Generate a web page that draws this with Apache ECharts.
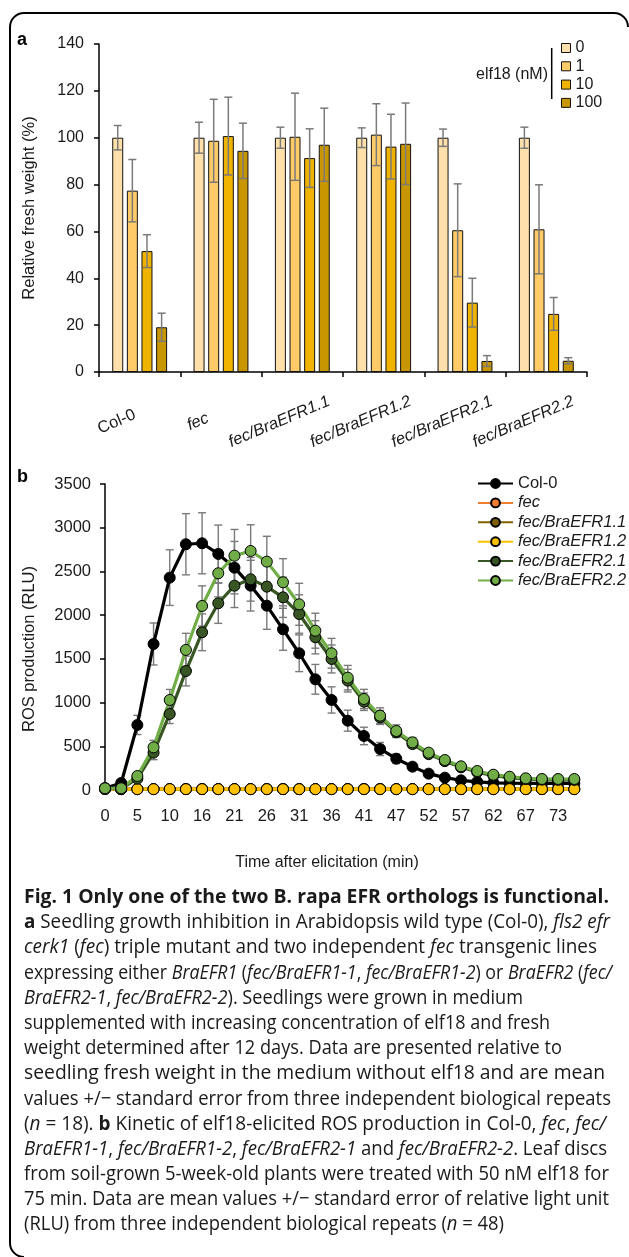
<!DOCTYPE html>
<html><head><meta charset="utf-8">
<script src="https://cdn.jsdelivr.net/npm/echarts@6/dist/echarts.min.js"></script>
<style>
html,body{margin:0;padding:0;background:#fff;width:629px;height:1257px;overflow:hidden;}
#chart{position:absolute;left:0;top:0;width:629px;height:1257px;}
#cap{position:absolute;left:24px;top:883px;font-family:'Open Sans','Noto Sans',sans-serif;font-size:20px;color:#1a1a1a;z-index:5;}
#cap .l{white-space:nowrap;height:25.2px;line-height:25.2px;transform-origin:0 50%;}
#cap .l span.w{display:inline-block;}
</style></head>
<body>
<div id="chart"></div>
<div id="cap">
<div class="l"><span class="w"><b>Fig. 1 Only one of the two B. rapa EFR orthologs is functional.</b></span></div>
<div class="l"><span class="w"><b>a</b> Seedling growth inhibition in Arabidopsis wild type (Col-0), <i>fls2 efr</i></span></div>
<div class="l"><span class="w"><i>cerk1</i> (<i>fec</i>) triple mutant and two independent <i>fec</i> transgenic lines</span></div>
<div class="l"><span class="w">expressing either <i>BraEFR1</i> (<i>fec/BraEFR1-1</i>, <i>fec/BraEFR1-2</i>) or <i>BraEFR2</i> (<i>fec/</i></span></div>
<div class="l"><span class="w"><i>BraEFR2-1</i>, <i>fec/BraEFR2-2</i>). Seedlings were grown in medium</span></div>
<div class="l"><span class="w">supplemented with increasing concentration of elf18 and fresh</span></div>
<div class="l"><span class="w">weight determined after 12 days. Data are presented relative to</span></div>
<div class="l"><span class="w">seedling fresh weight in the medium without elf18 and are mean</span></div>
<div class="l"><span class="w">values +/− standard error from three independent biological repeats</span></div>
<div class="l"><span class="w">(<i>n</i> = 18). <b>b</b> Kinetic of elf18-elicited ROS production in Col-0, <i>fec</i>, <i>fec/</i></span></div>
<div class="l"><span class="w"><i>BraEFR1-1</i>, <i>fec/BraEFR1-2</i>, <i>fec/BraEFR2-1</i> and <i>fec/BraEFR2-2</i>. Leaf discs</span></div>
<div class="l"><span class="w">from soil-grown 5-week-old plants were treated with 50 nM elf18 for</span></div>
<div class="l"><span class="w">75 min. Data are mean values +/− standard error of relative light unit</span></div>
<div class="l"><span class="w">(RLU) from three independent biological repeats (<i>n</i> = 48)</span></div>
</div>
<script>
// ---------- Panel a data ----------
const groups = ['Col-0','fec','fec/BraEFR1.1','fec/BraEFR1.2','fec/BraEFR2.1','fec/BraEFR2.2'];
const doseNames = ['0','1','10','100'];
const fw0   = [100, 100, 100, 100, 100, 100];
const fw1   = [77.4, 98.7, 100.4, 101.3, 60.5, 60.9];
const fw10  = [51.6, 100.7, 91.3, 96.2, 29.6, 24.8];
const fw100 = [19.1, 94.4, 97.0, 97.4, 4.7, 4.8];
const se0   = [5.2, 6.6, 4.5, 4.2, 3.7, 4.5];
const se1   = [13.3, 17.7, 18.6, 13.2, 19.8, 19.0];
const se10  = [7.0, 16.6, 12.5, 13.8, 10.4, 7.0];
const se100 = [6.0, 11.8, 15.6, 17.4, 2.3, 1.3];
const yTicksA = [0, 20, 40, 60, 80, 100, 120, 140];

// ---------- Panel b data ----------
const timeLabels = ['0','3','5','8','10','13','16','18','21','23','26','28','31','34','36','39','41','44','47','49','52','54','57','59','62','65','67','70','73','75'];
const lineNames = ['Col-0','fec','fec/BraEFR1.1','fec/BraEFR1.2','fec/BraEFR2.1','fec/BraEFR2.2'];
const rosCol0 = [20,80,744,1670,2429,2811,2822,2700,2543,2337,2108,1838,1564,1266,1030,793,618,469,358,267,187,141,111,92,82,78,76,75,75,75];
const rosFec  = [12,10,10,10,10,10,10,10,10,10,10,10,10,10,10,10,10,10,10,10,10,10,10,10,10,10,10,10,10,10];
const rosR11  = [12,10,10,10,10,10,10,10,10,10,10,10,10,10,10,10,10,10,10,10,10,10,10,10,10,10,10,10,10,10];
const rosR12  = [12,10,10,10,10,10,10,10,10,10,10,10,10,10,10,10,10,10,10,10,10,10,10,10,10,10,10,10,10,10];
const rosR21  = [20,15,130,427,870,1361,1804,2136,2337,2410,2326,2204,2013,1747,1499,1251,1010,830,660,525,410,330,260,205,165,142,125,118,116,115];
const rosR22  = [20,20,160,488,1030,1602,2105,2479,2680,2734,2612,2376,2124,1822,1564,1285,1041,850,675,545,427,343,271,217,175,152,134,126,126,126];
const errCol0 = [10,30,110,240,318,350,349,330,300,290,270,240,210,170,150,120,100,75,55,40,30,25,20,15,12,10,10,10,10,10];
const errR21  = [5,10,40,80,110,170,210,230,250,250,250,230,220,190,160,130,100,80,60,45,35,25,20,15,12,10,10,10,10,10];
const errR22  = [5,10,40,80,120,190,230,270,300,300,290,270,240,200,170,140,110,90,70,55,40,30,25,20,15,12,10,10,10,10];

// caption line right edges (layout)
const capRight = [609,610,597,612,523,550,562,605,611,606,607,609,609,504];

const FONT = "'Liberation Sans', Arial, sans-serif";
const TXT = '#1a1a1a';
const barColors = ['#FFE0AA','#FFCB69','#F0B400','#C89600'];
const lineColors = ['#000000','#ED7D31','#7F6000','#FFC000','#375623','#70AD47'];
const BW = 11, GAP = 0.33;

function errBarA(k, vals, errs){
  return {
    type:'custom', xAxisIndex:0, yAxisIndex:0, z:5, silent:true,
    data: vals.map((v,i)=>[i, v, errs[i]]),
    renderItem:(params, api)=>{
      const i = api.value(0), v = api.value(1), e = api.value(2);
      const c = api.coord([i, v]);
      const total = 4*BW + 3*BW*GAP;
      const x = c[0] - total/2 + BW/2 + k*BW*(1+GAP);
      const hi = api.coord([i, v+e])[1], lo = api.coord([i, Math.max(0, v-e)])[1];
      const st = {stroke:'#7a7a7a', lineWidth:1.5};
      return {type:'group', children:[
        {type:'line', shape:{x1:x,y1:hi,x2:x,y2:lo}, style:st},
        {type:'line', shape:{x1:x-4,y1:hi,x2:x+4,y2:hi}, style:st},
        {type:'line', shape:{x1:x-4,y1:lo,x2:x+4,y2:lo}, style:st}
      ]};
    }
  };
}
function errBarB(vals, errs){
  return {
    type:'custom', xAxisIndex:1, yAxisIndex:1, z:1, silent:true,
    data: vals.map((v,i)=>[i, v, errs[i]]),
    renderItem:(params, api)=>{
      const i = api.value(0), v = api.value(1), e = api.value(2);
      const x = api.coord([i, v])[0];
      const hi = api.coord([i, v+e])[1], lo = api.coord([i, Math.max(0, v-e)])[1];
      const st = {stroke:'#7a7a7a', lineWidth:1.4};
      return {type:'group', children:[
        {type:'line', shape:{x1:x,y1:hi,x2:x,y2:lo}, style:st},
        {type:'line', shape:{x1:x-4,y1:hi,x2:x+4,y2:hi}, style:st},
        {type:'line', shape:{x1:x-4,y1:lo,x2:x+4,y2:lo}, style:st}
      ]};
    }
  };
}

const barVals = [fw0, fw1, fw10, fw100];
const barErrs = [se0, se1, se10, se100];
const rosVals = [rosCol0, rosFec, rosR11, rosR12, rosR21, rosR22];

const series = [];
barVals.forEach((vals, k)=>{
  series.push({
    name: doseNames[k], type:'bar', xAxisIndex:0, yAxisIndex:0,
    barWidth: BW, barGap: (GAP*100)+'%', data: vals,
    itemStyle:{color: barColors[k], borderColor:'#111', borderWidth:1}
  });
});
barVals.forEach((vals,k)=> series.push(errBarA(k, vals, barErrs[k])));
series.push(errBarB(rosCol0, errCol0));
series.push(errBarB(rosR21, errR21));
series.push(errBarB(rosR22, errR22));
rosVals.forEach((vals, k)=>{
  series.push({
    name: lineNames[k], type:'line', xAxisIndex:1, yAxisIndex:1, z:2,
    data: vals, symbol:'circle', symbolSize:11, showSymbol:true, showAllSymbol:true, smooth:false,
    lineStyle:{color: lineColors[k], width:3.2},
    itemStyle:{color: lineColors[k], borderColor:'#000', borderWidth:1}
  });
});

const frameStyle = {fill:'none', stroke:'#000', lineWidth:2};
const option = {
  animation:false,
  backgroundColor:'#fff',
  textStyle:{fontFamily: FONT, color: TXT},
  grid:[
    {left:99, top:44, width:488, height:328},
    {left:105, top:484, width:469.3, height:306}
  ],
  xAxis:[
    {type:'category', gridIndex:0, data: groups, boundaryGap:true,
     axisLine:{lineStyle:{color:'#000', width:1.5}},
     axisTick:{show:true, length:5, lineStyle:{color:'#000', width:1.5}},
     axisLabel:{interval:0, rotate:23, align:'center', verticalAlign:'middle', margin:40, color:TXT,
       formatter:(v)=> v==='Col-0' ? '{n|'+v+'}' : '{i|'+v+'}',
       rich:{n:{fontSize:16.5, fontFamily:FONT, color:TXT, padding:[0,50,0,0]},
             i:{fontSize:16.5, fontFamily:FONT, color:TXT, fontStyle:'italic', padding:[0,50,0,0]}}}},
    {type:'category', gridIndex:1, data: timeLabels, boundaryGap:false,
     axisLine:{lineStyle:{color:'#000', width:1.2}},
     axisTick:{show:false},
     axisLabel:{interval:1, fontSize:16.5, color:TXT, margin:18}}
  ],
  yAxis:[
    {type:'value', gridIndex:0, min:yTicksA[0], max:yTicksA[yTicksA.length-1], interval:20,
     axisLine:{show:true, lineStyle:{color:'#000', width:1.5}},
     axisTick:{show:true, length:5, lineStyle:{color:'#000', width:1.5}},
     splitLine:{show:false},
     axisLabel:{fontSize:16, color:TXT, margin:15, formatter:(v)=>String(v)}},
    {type:'value', gridIndex:1, min:0, max:3500, interval:500,
     axisLine:{show:true, lineStyle:{color:'#000', width:1.5}},
     axisTick:{show:true, length:5, lineStyle:{color:'#000', width:1.5}},
     splitLine:{show:false},
     axisLabel:{fontSize:16.5, color:TXT, margin:14, formatter:(v)=>String(v)}}
  ],
  legend:[
    {orient:'vertical', left:556, top:35, itemWidth:9, itemHeight:9, itemGap:2.3,
     data: doseNames, icon:'rect', selectedMode:false,
     itemStyle:{borderColor:'#111', borderWidth:1},
     textStyle:{fontSize:16, lineHeight:16, color:TXT, fontFamily:FONT}},
    {orient:'vertical', left:472, top:470, itemWidth:35, itemHeight:11, itemGap:2.4,
     selectedMode:false,
     data: lineNames.map(n => n==='Col-0' ? {name:n} : {name:n, textStyle:{fontStyle:'italic'}}),
     textStyle:{fontSize:16.5, lineHeight:17, color:TXT, fontFamily:FONT}}
  ],
  graphic:[
    {type:'line', shape:{x1:24, y1:13, x2:614, y2:13}, style:frameStyle, z:100},
    {type:'line', shape:{x1:10, y1:27, x2:10, y2:1243}, style:frameStyle, z:100},
    {type:'arc', shape:{cx:24, cy:27, r:14, startAngle:Math.PI, endAngle:1.5*Math.PI, clockwise:true}, style:frameStyle, z:100},
    {type:'arc', shape:{cx:614, cy:27, r:14, startAngle:1.5*Math.PI, endAngle:2*Math.PI, clockwise:true}, style:frameStyle, z:100},
    {type:'arc', shape:{cx:24, cy:1243, r:14, startAngle:0.5*Math.PI, endAngle:Math.PI, clockwise:true}, style:frameStyle, z:100},
    {type:'text', left:17, top:31, style:{text:'a', font:'bold 18px '+FONT, fill:'#000'}},
    {type:'text', left:17, top:468, style:{text:'b', font:'bold 18px '+FONT, fill:'#000'}},
    {type:'text', x:548, y:75, style:{text:'elf18 (nM)', font:'16px '+FONT, fill:TXT, align:'right', verticalAlign:'middle'}},
    {type:'line', shape:{x1:551.7, y1:48, x2:551.7, y2:99}, style:{stroke:'#000', lineWidth:1.5}},
    {type:'text', x:29, y:208, rotation:Math.PI/2, style:{text:'Relative fresh weight (%)', font:'16.5px '+FONT, fill:TXT, align:'center', verticalAlign:'middle'}},
    {type:'text', x:29, y:649, rotation:Math.PI/2, style:{text:'ROS production (RLU)', font:'16.5px '+FONT, fill:TXT, align:'center', verticalAlign:'middle'}},
    {type:'text', x:327, y:863, style:{text:'Time after elicitation (min)', font:'16px '+FONT, fill:TXT, align:'center', verticalAlign:'middle'}}
  ],
  series: series
};
const chart = echarts.init(document.getElementById('chart'), null, {renderer:'canvas'});
chart.setOption(option);

// condense each caption line horizontally to its reference right edge
(function(){
  const lines = Array.from(document.querySelectorAll('#cap .l'));
  const widths = lines.map(el => el.firstElementChild.getBoundingClientRect().width);
  lines.forEach((el, i) => {
    const s = (capRight[i] - 24) / widths[i];
    el.style.transform = 'scaleX(' + s + ')';
  });
})();
</script>
</body></html>
